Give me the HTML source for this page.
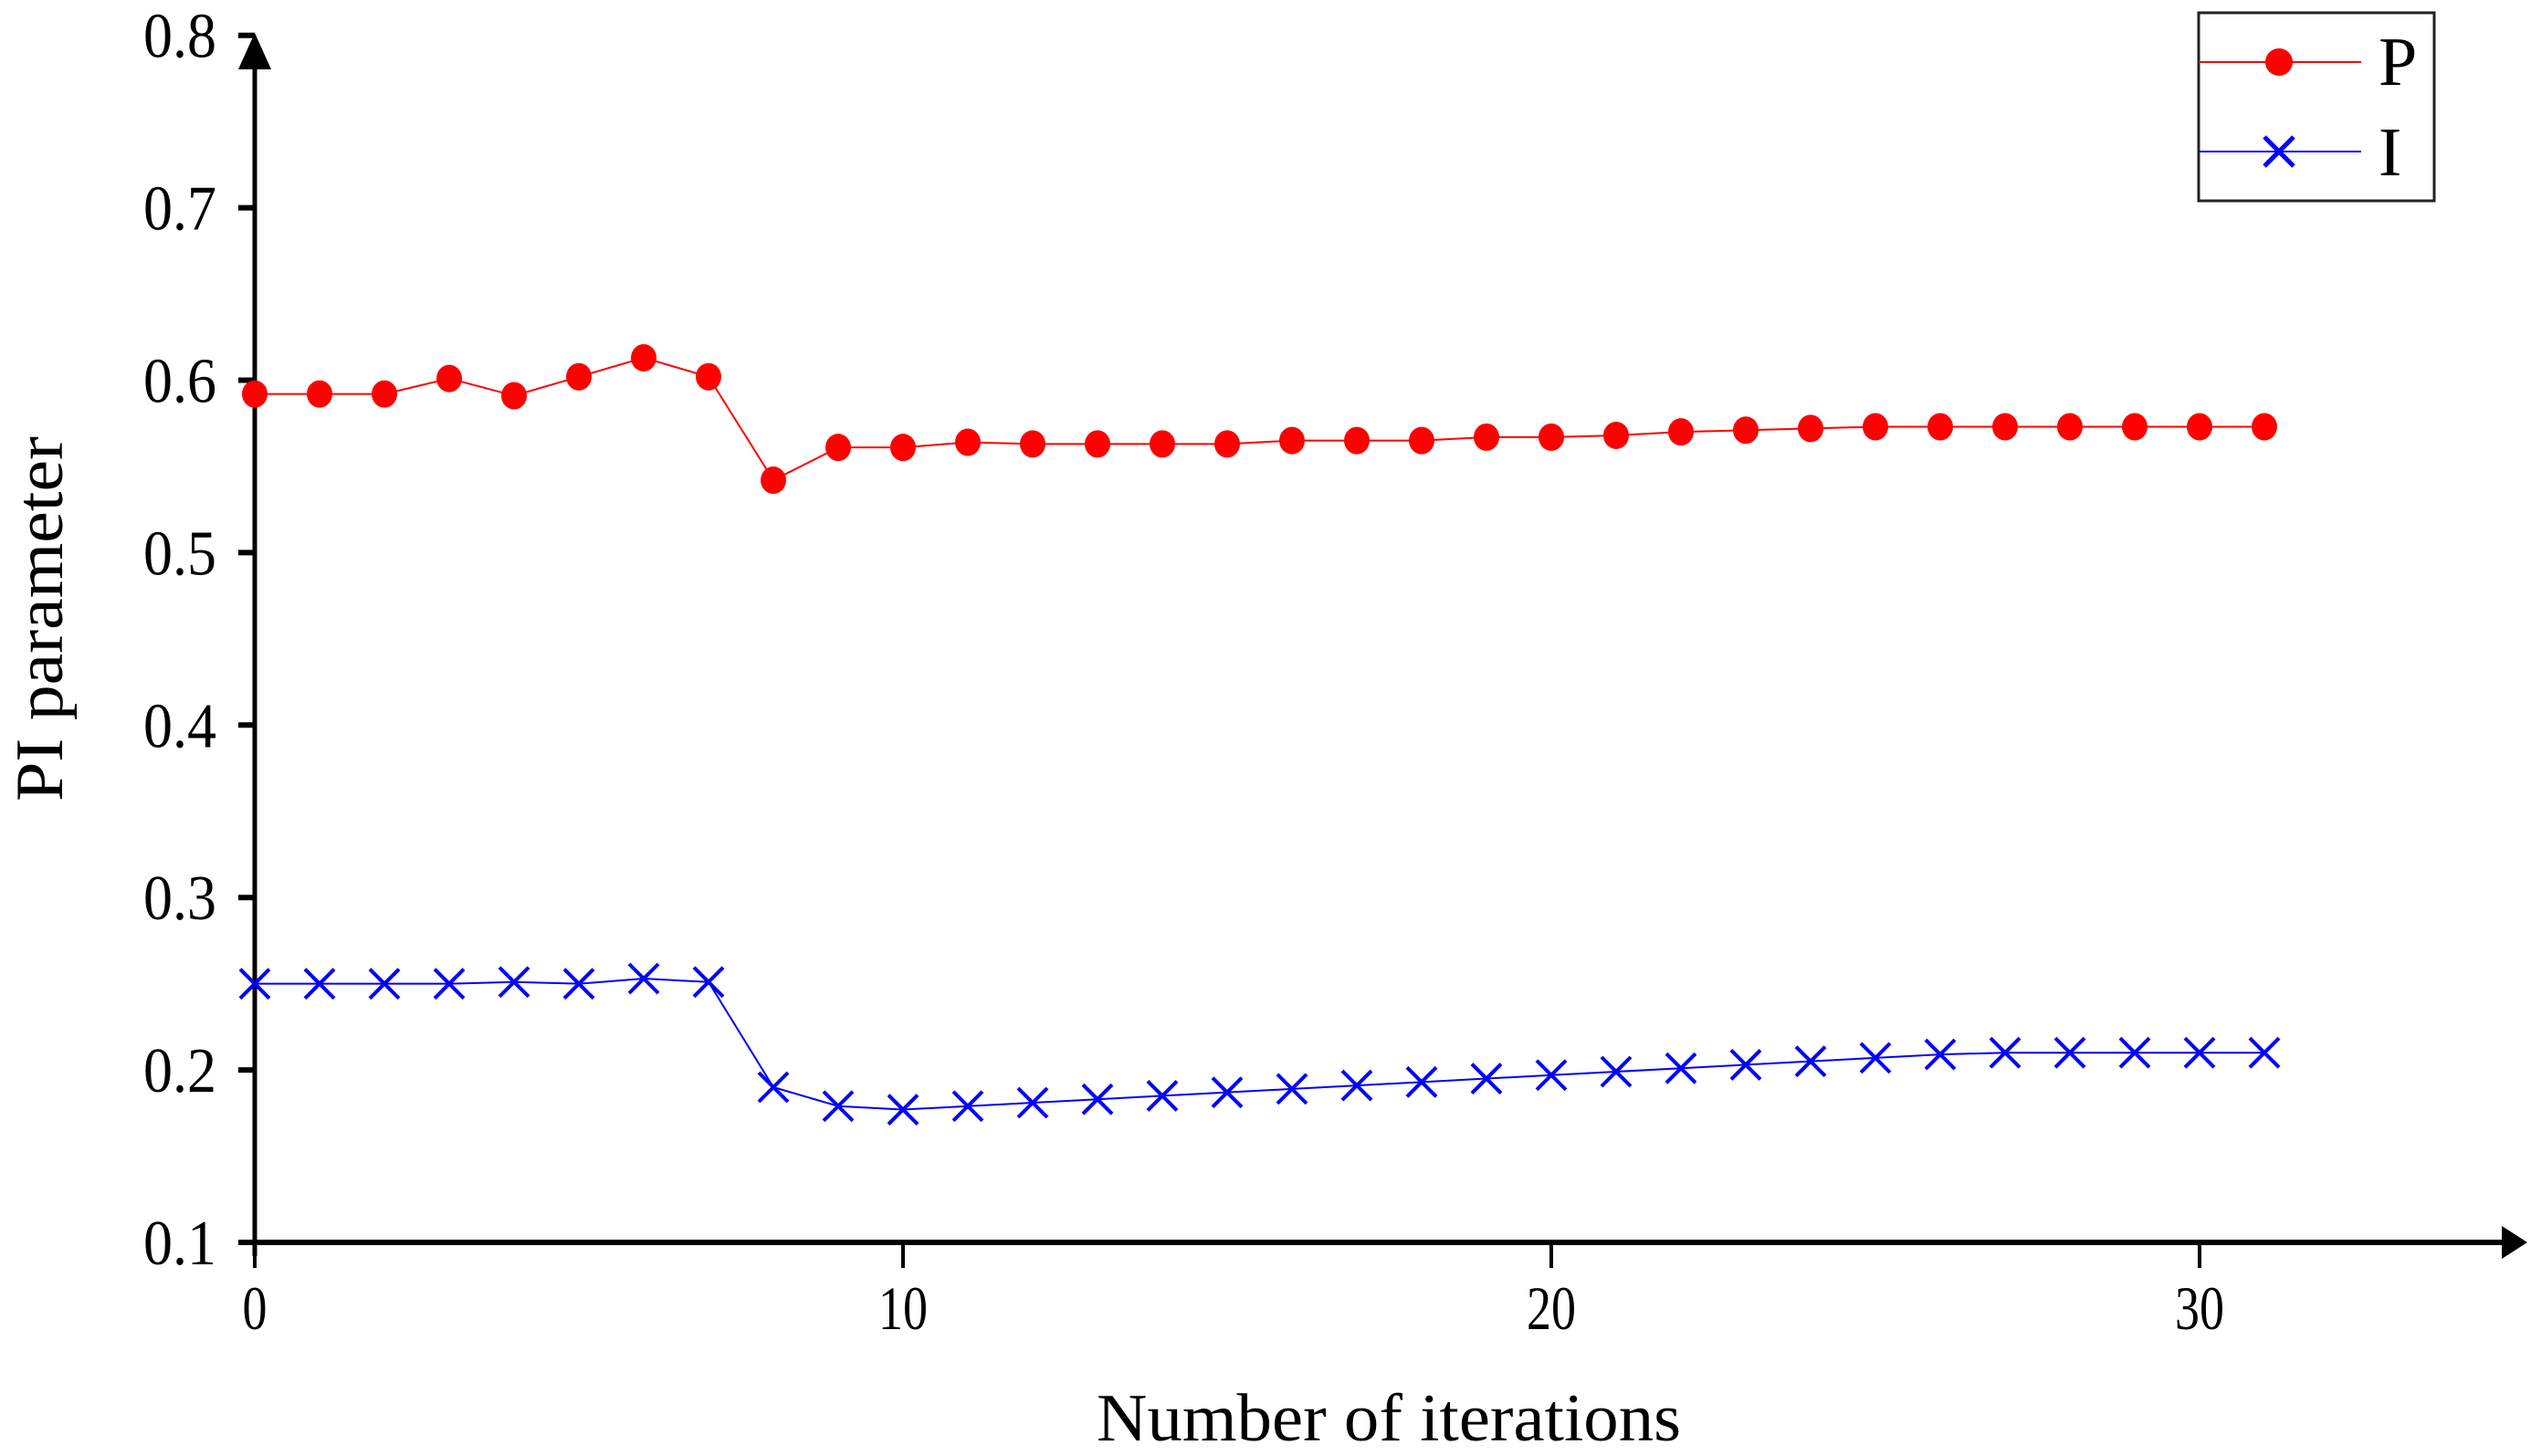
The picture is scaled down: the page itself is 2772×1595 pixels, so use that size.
<!DOCTYPE html>
<html><head><meta charset="utf-8"><style>html,body{margin:0;padding:0;background:#fff}svg{display:block}text{font-family:"Liberation Serif",serif;fill:#000}</style></head>
<body>
<svg id="chart" width="2772" height="1595" viewBox="0 0 2772 1595" xmlns="http://www.w3.org/2000/svg">
<rect width="2772" height="1595" fill="#fff"/>
<g id="axes"></g>
<g id="series"></g>
<text x="1521" y="1578" font-size="74" text-anchor="middle" textLength="640" lengthAdjust="spacingAndGlyphs">Number of iterations</text>
<text transform="translate(68,678) rotate(-90)" font-size="74" text-anchor="middle" textLength="400" lengthAdjust="spacingAndGlyphs">PI parameter</text>
<g>
<rect x="2408" y="14" width="258" height="206" fill="#fff" stroke="#222" stroke-width="3"/>
<line x1="2408" y1="68" x2="2586" y2="68" stroke="#f00" stroke-width="2"/>
<circle cx="2496" cy="68" r="15" fill="#f00"/>
<text x="2605" y="93" font-size="76">P</text>
<line x1="2408" y1="166" x2="2586" y2="166" stroke="#00f" stroke-width="2"/>
<path d="M2480 150 L2512 182 M2512 150 L2480 182" stroke="#00f" stroke-width="5"/>
<text x="2605" y="192" font-size="76">I</text>
</g>
</svg>
<script>
const iterations = [0,1,2,3,4,5,6,7,8,9,10,11,12,13,14,15,16,17,18,19,20,21,22,23,24,25,26,27,28,29,30,31];
const pValues = [0.592,0.592,0.592,0.601,0.591,0.602,0.613,0.602,0.542,0.561,0.561,0.564,0.563,0.563,0.563,0.563,0.565,0.565,0.565,0.567,0.567,0.568,0.570,0.571,0.572,0.573,0.573,0.573,0.573,0.573,0.573,0.573];
const iValues = [0.250,0.250,0.250,0.250,0.251,0.250,0.253,0.251,0.190,0.179,0.177,0.179,0.181,0.183,0.185,0.187,0.189,0.191,0.193,0.195,0.197,0.199,0.201,0.203,0.205,0.207,0.209,0.210,0.210,0.210,0.210,0.210];
const yTicks = [0.1,0.2,0.3,0.4,0.5,0.6,0.7,0.8];
const yTickLabels = ["0.1","0.2","0.3","0.4","0.5","0.6","0.7","0.8"];
const xTicks = [0,10,20,30];
const xTickLabels = ["0","10","20","30"];

const NS = "http://www.w3.org/2000/svg";
const X0 = 279, XS = 71.0, Y0 = 1361, YS = 1889;
function sx(v){ return X0 + v*XS; }
function sy(v){ return Y0 - (v-0.1)*YS; }
function mk(tag, attrs, parent){ const e=document.createElementNS(NS,tag); for(const k in attrs) e.setAttribute(k,attrs[k]); parent.appendChild(e); return e; }

const axes = document.getElementById('axes');
let e;
e = mk('line',{x1:X0,y1:Y0,x2:2740,y2:Y0,stroke:'#000','stroke-width':6},axes);


e = mk('path',{d:'M2740 1343 L2768 1361 L2740 1379 Z',fill:'#000'},axes);


e = mk('line',{x1:X0,y1:Y0+15,x2:X0,y2:62,stroke:'#000','stroke-width':5},axes);


e = mk('path',{d:'M261 76 L279 36 L297 76 Z',fill:'#000'},axes);



yTicks.forEach((v,i)=>{
  const y = sy(v);
  let t = mk('line',{x1:X0-18,y1:y,x2:X0,y2:y,stroke:'#000','stroke-width':6},axes);
  
  
  let l = mk('text',{x:X0-42,y:y+24,'font-size':70,'text-anchor':'end',textLength:80,lengthAdjust:'spacingAndGlyphs'},axes);
  l.textContent = yTickLabels[i];
  
  
});
xTicks.forEach((v,i)=>{
  const x = sx(v);
  let t = mk('line',{x1:x,y1:Y0,x2:x,y2:Y0+28,stroke:'#000','stroke-width':4},axes);
  
  
  let l = mk('text',{x:x,y:1456,'font-size':68,'text-anchor':'middle',textLength:xTickLabels[i].length*27,lengthAdjust:'spacingAndGlyphs'},axes);
  l.textContent = xTickLabels[i];
  
  
});

const series = document.getElementById('series');
let pl = mk('polyline',{points:iterations.map((x,i)=>sx(x)+','+sy(pValues[i])).join(' '),fill:'none',stroke:'#f00','stroke-width':2},series);


let il = mk('polyline',{points:iterations.map((x,i)=>sx(x)+','+sy(iValues[i])).join(' '),fill:'none',stroke:'#00f','stroke-width':2},series);


iterations.forEach((x,i)=>{
  const cx=sx(x), py=sy(pValues[i]), iy=sy(iValues[i]);
  let c = mk('ellipse',{cx:cx,cy:py,rx:14,ry:15,fill:'#f00'},series);
  
  
  let m = mk('path',{d:`M${cx-16} ${iy-16} L${cx+16} ${iy+16} M${cx+16} ${iy-16} L${cx-16} ${iy+16}`,stroke:'#00f','stroke-width':4,fill:'none'},series);
  
  
});
</script>
</body></html>
